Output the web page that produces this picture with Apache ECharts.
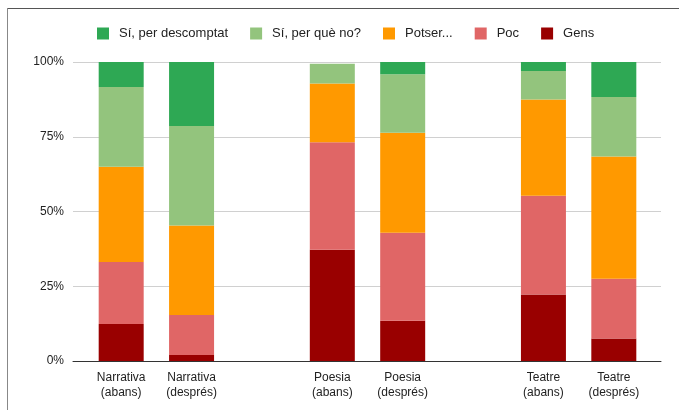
<!DOCTYPE html>
<html>
<head>
<meta charset="utf-8">
<script src="https://cdn.jsdelivr.net/npm/echarts@6/dist/echarts.min.js"></script>
<style>
html,body{margin:0;padding:0;background:#fff;}
#chart{width:679px;height:410px;}
</style>
</head>
<body>
<div id="chart"></div>
<script>
var categories = ['Narrativa\n(abans)', 'Narrativa\n(després)', '', 'Poesia\n(abans)', 'Poesia\n(després)', '', 'Teatre\n(abans)', 'Teatre\n(després)'];
var seriesNames = ['Sí, per descomptat', 'Sí, per què no?', 'Potser...', 'Poc', 'Gens'];
var gens = [12.4, 2.0, null, 37.2, 13.5, null, 22.2, 7.5];
var poc = [20.7, 13.4, null, 36.0, 29.4, null, 33.1, 20.0];
var potser = [31.9, 29.9, null, 19.6, 33.4, null, 32.2, 40.9];
var siPerQueNo = [26.6, 33.3, null, 6.6, 19.6, null, 9.5, 19.9];
var siPerDescomptat = [8.4, 21.4, null, 0, 4.1, null, 3.0, 11.7];
var yTicks = [0, 25, 50, 75, 100];

var colors = {
  'Sí, per descomptat': '#2ea854',
  'Sí, per què no?': '#93c47d',
  'Potser...': '#ff9900',
  'Poc': '#e06666',
  'Gens': '#990000'
};
var stackOrder = [['Gens', gens], ['Poc', poc], ['Potser...', potser], ['Sí, per què no?', siPerQueNo], ['Sí, per descomptat', siPerDescomptat]];
var font = 'Liberation Sans, Arial, sans-serif';

var chart = echarts.init(document.getElementById('chart'), null, {renderer: 'canvas'});
var option = {
  animation: false,
  backgroundColor: '#fff',
  textStyle: {fontFamily: font},
  graphic: [
    {type: 'line', shape: {x1: 7, y1: 8.5, x2: 679, y2: 8.5}, style: {stroke: '#555', lineWidth: 1}, silent: true},
    {type: 'line', shape: {x1: 7.5, y1: 8, x2: 7.5, y2: 410}, style: {stroke: '#888', lineWidth: 1}, silent: true}
  ],
  legend: {
    data: seriesNames,
    left: 92,
    top: 22,
    itemWidth: 12,
    itemHeight: 12,
    itemGap: 22,
    icon: 'rect',
    textStyle: {fontSize: 13, color: '#222', fontFamily: font, padding: [0, 0, 0, 5]}
  },
  grid: [
    {left: 73, right: 18, top: 62, bottom: 49},
    {left: 86, width: 563, top: 62, bottom: 49}
  ],
  xAxis: [
    {gridIndex: 0, type: 'value', min: 0, max: 1, axisLabel: {show: false}, axisTick: {show: false}, splitLine: {show: false},
     axisLine: {show: true, lineStyle: {color: '#333', width: 1}}},
    {gridIndex: 1, type: 'category', data: categories, axisLine: {show: false}, axisTick: {show: false},
     axisLabel: {interval: 0, fontSize: 12, color: '#222', lineHeight: 15, margin: 9, fontFamily: font}}
  ],
  yAxis: [
    {gridIndex: 0, type: 'value', min: yTicks[0], max: yTicks[yTicks.length - 1], interval: 25,
     axisLabel: {formatter: '{value}%', fontSize: 12, color: '#222', margin: 9, fontFamily: font},
     axisLine: {show: false}, axisTick: {show: false},
     splitLine: {show: true, lineStyle: {color: '#d0d0d0', width: 1}}},
    {gridIndex: 1, type: 'value', min: 0, max: 100, show: false, splitLine: {show: false}}
  ],
  series: stackOrder.map(function (s) {
    return {
      name: s[0],
      type: 'bar',
      stack: 'total',
      xAxisIndex: 1,
      yAxisIndex: 1,
      barWidth: 45,
      data: s[1],
      itemStyle: {color: colors[s[0]]}
    };
  })
};
chart.setOption(option);
</script>
</body>
</html>
